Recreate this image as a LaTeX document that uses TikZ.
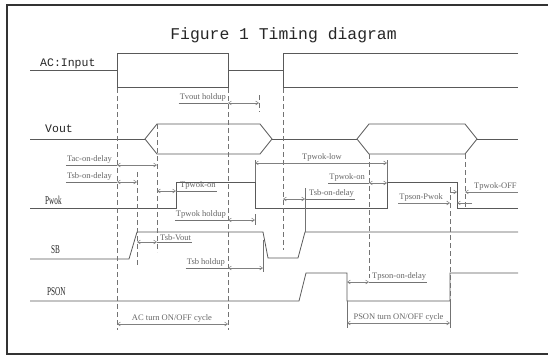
\documentclass[tikz,border=0pt]{standalone}
\usepackage{fontspec}
\setmainfont{Liberation Serif}
\newfontfamily\ttlfont{Liberation Mono}
\newfontfamily\sigfont[FakeStretch=0.6]{Liberation Serif}
\usetikzlibrary{arrows.meta}
\tikzset{
  sig/.style={draw=black!65, line width=0.8pt},
  guide/.style={draw=black!55, line width=0.6pt, dash pattern=on 5pt off 3pt},
  ext/.style={draw=black!55, line width=0.6pt},
  dim/.style={draw=black!50, line width=0.5pt,
    {Straight Barb[length=3pt,width=4pt]}-{Straight Barb[length=3pt,width=4pt]}},
  tip/.style={draw=black!50, line width=0.5pt, -{Straight Barb[length=3pt,width=4pt]}},
  lbl/.style={text=black!60, font=\fontsize{8.5}{10}\selectfont, inner sep=1pt},
  signame/.style={text=black!85, font=\sigfont\fontsize{12}{14}\selectfont, anchor=base west, inner sep=0pt},
  mono/.style={text=black!85, font=\ttlfont\fontsize{11.5}{14}\selectfont, anchor=base west, inner sep=0pt}
}
\begin{document}
\begin{tikzpicture}[x=1pt, y=-1pt]
  \useasboundingbox (0,0) rectangle (548,356);
  \draw[black!80, line width=2pt] (7,5) rectangle (552,354);
  \node[font=\ttlfont\fontsize{16.4}{18}\selectfont, text=black!85, anchor=base]
    (title) at (283.5,39) {Figure 1 Timing diagram};
  % signal names
  \node[mono] (ac) at (40,66) {AC:Input};
  \node[mono] (vout) at (45,132) {Vout};
  \node[signame] (pwok) at (45,204) {Pwok};
  \node[signame] (sb) at (51,253) {SB};
  \node[signame] (pson) at (47,295) {PSON};
  % waveforms
  \draw[sig] (30,70) -- (117,70);
  \draw[sig] (117,53) rectangle (228,87);
  \draw[sig] (228,70) -- (283,70);
  \draw[sig] (518,53) -- (283,53) -- (283,87) -- (518,87);
  \draw[sig] (30,139) -- (145,139);
  \draw[sig] (145,139) -- (157,124) -- (260,124) -- (272,139) -- (260,154) -- (157,154) -- cycle;
  \draw[sig] (272,139) -- (357,139);
  \draw[sig] (357,139) -- (369,124) -- (465,124) -- (477,139) -- (465,154) -- (369,154) -- cycle;
  \draw[sig] (477,139) -- (518,139);
  \draw[sig] (30,208) -- (176,208) -- (176,182) -- (255,182) -- (255,208) -- (387,208)
    -- (387,182) -- (457,182) -- (457,208) -- (518,208);
  \draw[sig] (30,259) -- (129,259) -- (137,232) -- (263,232) -- (268,258) -- (298,258)
    -- (305,232) -- (518,232);
  \draw[sig] (30,301) -- (299,301) -- (306,273) -- (347,273) -- (347,301) -- (450,301)
    -- (450,273) -- (518,273);
  % guide lines
  \foreach \x/\a/\b in {117/88/330, 228/88/330, 283/88/250, 157/124/252, 137/172/265,
                        369/154/278, 450/187/301, 465/154/208, 259/95/112}
    \draw[guide] (\x,\a) -- (\x,\b);
  \draw[ext] (255,160) -- (255,182);
  \draw[ext] (387,160) -- (387,182);
  \draw[ext] (305,188) -- (305,232);
  \draw[ext] (263,240) -- (263,272);
  \draw[ext] (255,214) -- (255,225);
  \draw[ext] (347,301) -- (347,328);
  \draw[ext] (450,301) -- (450,328);
  % timings
  \draw[dim] (228,103) -- (259,103);
  \node[lbl, anchor=south east] (tvh) at (227,103) {Tvout holdup};
  \draw[ext] (tvh.south west) -- (228,103);
  \draw[dim] (117,165) -- (157,165);
  \node[lbl, anchor=south east] (tac) at (113,165) {Tac-on-delay};
  \draw[ext] (tac.south west) -- (117,165);
  \draw[dim] (117,182) -- (137,182);
  \node[lbl, anchor=south east] (tsb) at (113,182) {Tsb-on-delay};
  \draw[ext] (tsb.south west) -- (117,182);
  \draw[dim] (157,191) -- (176,191);
  \node[lbl, anchor=south west] (ton) at (179,191) {Tpwok-on};
  \draw[ext] (176,191) -- (ton.south east);
  \draw[dim] (228,220) -- (255,220);
  \node[lbl, anchor=south east] (tph) at (227,220) {Tpwok holdup};
  \draw[ext] (tph.south west) -- (228,220);
  \draw[dim] (137,242) -- (157,242);
  \node[lbl, anchor=south west] (tsv) at (159,242) {Tsb-Vout};
  \draw[ext] (157,242) -- (tsv.south east);
  \draw[dim] (228,268) -- (263,268);
  \node[lbl, anchor=south east] (tsh) at (226,268) {Tsb holdup};
  \draw[ext] (tsh.south west) -- (228,268);
  \draw[dim] (117,324) -- (228,324);
  \node[lbl, anchor=south] (accyc) at (172,324) {AC turn ON/OFF cycle};
  \draw[dim] (255,163) -- (387,163);
  \node[lbl, anchor=south] (tlow) at (322,163) {Tpwok-low};
  \draw[dim] (369,183) -- (387,183);
  \node[lbl, anchor=south east] (ton2) at (366,183) {Tpwok-on};
  \draw[ext] (ton2.south west) -- (369,183);
  \draw[dim] (283,199) -- (305,199);
  \node[lbl, anchor=south west] (tsb2) at (308,199) {Tsb-on-delay};
  \draw[ext] (305,199) -- (tsb2.south east);
  \draw[dim] (347,282) -- (369,282);
  \node[lbl, anchor=south west] (tpsd) at (371,282) {Tpson-on-delay};
  \draw[ext] (369,282) -- (tpsd.south east);
  \draw[dim] (347,323) -- (450,323);
  \node[lbl, anchor=south] (pscyc) at (398.5,323) {PSON turn ON/OFF cycle};
  \node[lbl, anchor=south east] (tpp) at (444,203) {Tpson-Pwok};
  \draw[tip] (tpp.south west) -- (450,203);
  \draw[tip] (472,203) -- (457,203);
  \node[lbl, anchor=south west] (toff) at (473,192) {Tpwok-OFF};
  \draw[tip] (toff.south east) -- (465,192);
  \draw[tip] (450,192) -- (457,192);
\end{tikzpicture}
\end{document}
